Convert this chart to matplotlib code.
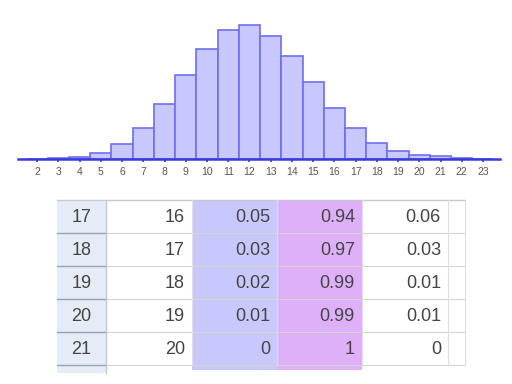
import matplotlib.pyplot as plt
from matplotlib.patches import Rectangle
import numpy as np

plt.rcParams['font.family'] = ['Liberation Sans', 'DejaVu Sans']

# histogram data
k_values = list(range(2, 24))
probs = [0.0, 0.0005, 0.002, 0.006, 0.015, 0.030, 0.053, 0.082, 0.107, 0.125, 0.130,
         0.119, 0.100, 0.075, 0.050, 0.030, 0.016, 0.0075, 0.004, 0.0026, 0.0007, 0.0]

# table rows shown below the chart
row_ids = [17, 18, 19, 20, 21]
x_col = ["16", "17", "18", "19", "20"]
pmf_col = ["0.05", "0.03", "0.02", "0.01", "0"]
cdf_col = ["0.94", "0.97", "0.99", "0.99", "1"]
sf_col = ["0.06", "0.03", "0.01", "0.01", "0"]

W, H = 512, 384
fig = plt.figure(figsize=(W / 100, H / 100), dpi=100)

# --- histogram ---
ax = fig.add_axes([18 / W, (H - 159) / H, (500 - 18) / W, 139 / H])
ax.bar(k_values, probs, width=1.0, color="#c8c8ff", edgecolor="#6e6ef0", linewidth=1.2)
ax.set_xlim(1.1, 23.8)
ax.set_ylim(0, 0.135)
for s in ["top", "right", "left"]:
    ax.spines[s].set_visible(False)
ax.spines["bottom"].set_color("#3a3ae0")
ax.spines["bottom"].set_linewidth(1.8)
ax.set_yticks([])
ax.set_xticks(k_values)
ax.tick_params(axis="x", length=2.5, width=1.2, color="#404060", pad=3.5,
               labelsize=7.5, labelcolor="#555555")
ax.patch.set_alpha(0)

# --- table ---
tx = fig.add_axes([0, 0, 1, 1])
tx.set_xlim(0, W)
tx.set_ylim(H, 0)
tx.axis("off")

col_edges = [57, 106, 192, 277, 362, 448, 465]
col_bg = ["#e6ecf6", "white", "#c8c8fe", "#deb0fa", "white", "white"]
top, row_h = 200, 33
n = len(row_ids)
bottom = top + n * row_h

for i in range(len(col_edges) - 1):
    ext = 8 if i == 0 else (5 if i in (2, 3) else 0)
    tx.add_patch(Rectangle((col_edges[i], top), col_edges[i + 1] - col_edges[i],
                           bottom - top + ext, facecolor=col_bg[i], edgecolor="none"))

# grid lines
tx.plot([col_edges[0], col_edges[-1]], [top, top], color="#c8c8c8", lw=1)
for r in range(1, n + 1):
    y = top + r * row_h
    tx.plot([col_edges[1], col_edges[-1]], [y, y], color="#d4d4d4", lw=0.8)
    tx.plot([col_edges[0], col_edges[1]], [y, y], color="#98a0b0", lw=1)
for xe in col_edges[1:]:
    tx.plot([xe, xe], [top, bottom], color="#e0e0e0", lw=0.8)
tx.plot([col_edges[1], col_edges[1]], [top, bottom + 8], color="#c0c8d8", lw=1)

cols = [x_col, pmf_col, cdf_col, sf_col]
for r in range(n):
    yc = top + r * row_h + row_h / 2 + 1
    tx.text((col_edges[0] + col_edges[1]) / 2, yc, str(row_ids[r]), ha="center",
            va="center", fontsize=13, color="#444444")
    for j, col in enumerate(cols):
        tx.text(col_edges[j + 2] - 7, yc, col[r], ha="right", va="center",
                fontsize=13, color="#444444")

fig.savefig("out.png", dpi=100)
